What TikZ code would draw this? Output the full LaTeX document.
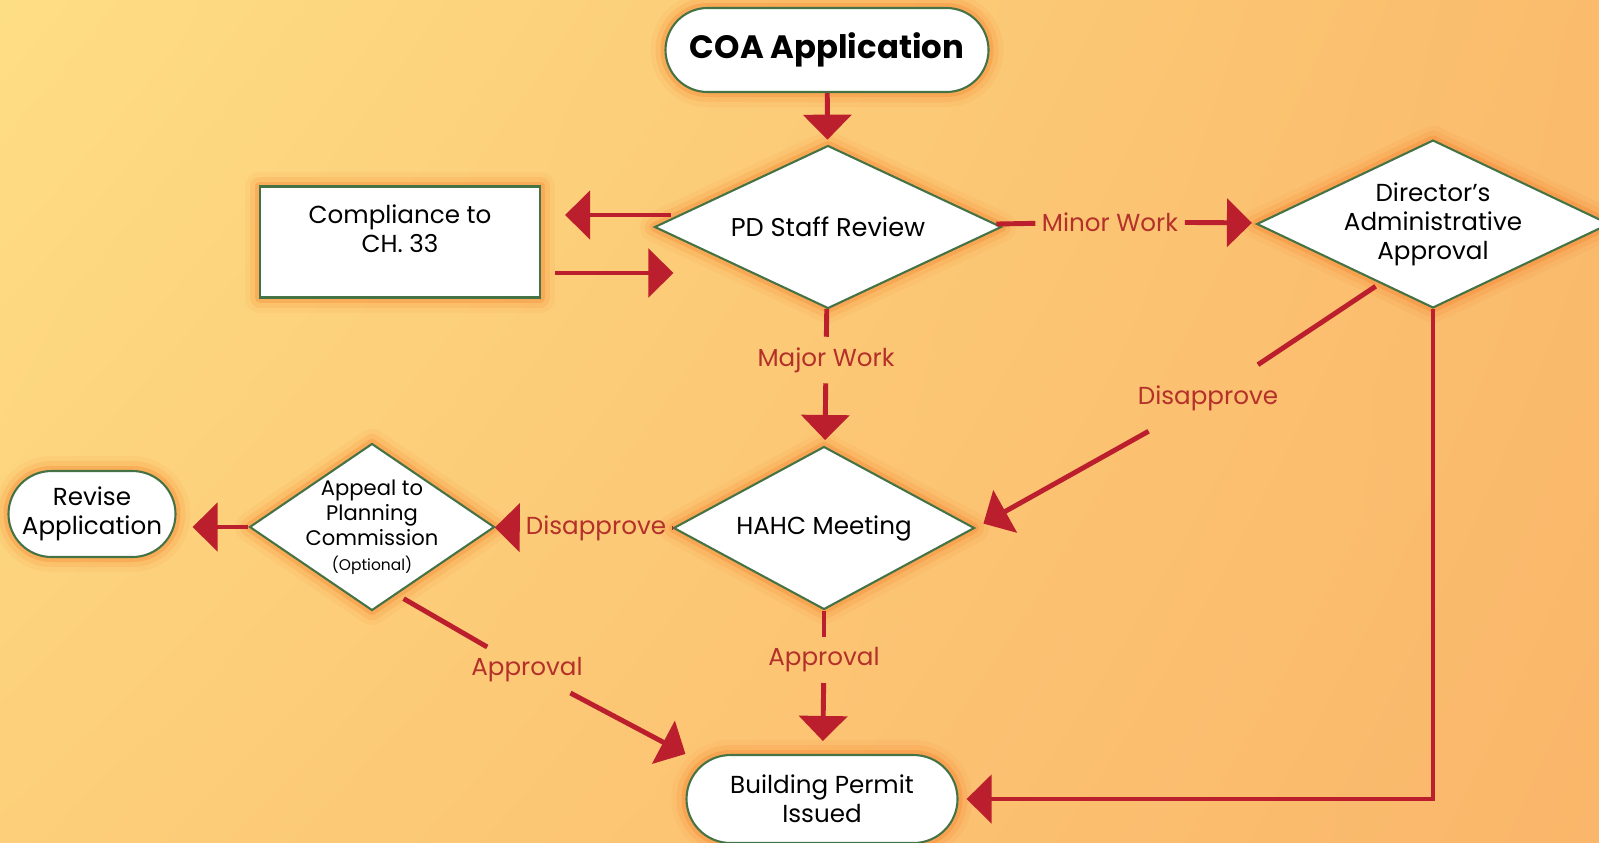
\documentclass[tikz,border=0pt]{standalone}
\usepackage{fontspec}
\setmainfont{Poppins}
\usepackage{tikz}
\usetikzlibrary{ arrows.meta, calc, positioning, shadings, shapes.geometric }
\definecolor{flowred}{RGB}{187,30,45}
\definecolor{tagred}{RGB}{180,48,42}
\definecolor{edgegreen}{RGB}{70,115,70}
\definecolor{glowcol}{RGB}{245,115,30}
\definecolor{bgA}{RGB}{254,222,133}
\definecolor{bgB}{RGB}{250,188,108}
\definecolor{bgC}{RGB}{253,207,122}
\definecolor{bgD}{RGB}{250,182,106}
\tikzset{
>={Triangle[width=4.8mm,length=2.5mm]}, % wide flat arrow heads
x=0.1mm, y=-0.1mm, % one unit is one pixel, y grows downwards
every node/.style={inner sep=1pt},
glowing/.style={ % soft orange halo round the boxes
  preaction={draw=glowcol, line width=3mm, draw opacity=0.07, line join=round},
  preaction={draw=glowcol, line width=2mm, draw opacity=0.12, line join=round},
  preaction={draw=glowcol, line width=1mm, draw opacity=0.24, line join=round}},
block/.style={draw=edgegreen, fill=white, line width=0.6pt, align=center, glowing,
  font=\fontsize{7}{8.25}\selectfont},
pill/.style={block, rounded corners=#1},
decision/.style={block, diamond, inner sep=0pt, aspect=#1},
decision/.default=2.1,
flow/.style={color=flowred, line width=1.4pt},
tag/.style={text=tagred, inner xsep=0.6mm, inner ysep=1mm, font=\fontsize{7}{8}\selectfont},
}

\begin{document}
\begin{tikzpicture}
  \shade[upper left=bgA, upper right=bgB, lower left=bgC, lower right=bgD] (0,0) rectangle (1599,842);
  \useasboundingbox (0,0) rectangle (1599,842);

  % boxes
  \node[pill=4.2mm, minimum width=3.23cm, minimum height=0.84cm, font=\fontsize{9.2}{11}\selectfont\bfseries] (coa) at (827,50) {COA Application};
  \node[decision, minimum width=3.47cm, minimum height=1.63cm, font=\fontsize{7.3}{8.25}\selectfont] (pd) at (828,227) {PD Staff Review};
  \node[block, minimum width=2.8cm, minimum height=1.11cm, text depth=2.6mm] (comp) at (400,242) {Compliance to\\CH. 33};
  \node[decision, minimum width=3.42cm, minimum height=1.63cm] (dir) at (1433,224) {Director’s\\Administrative\\Approval};
  \node[decision=1.85, minimum width=3.01cm, minimum height=1.63cm] (hahc) at (824,528) {HAHC Meeting};
  \node[decision=1.47, inner sep=-2mm, minimum width=2.45cm, minimum height=1.67cm, font=\fontsize{6}{7.1}\selectfont] (appeal) at (372,527) {Appeal to\\Planning\\Commission\\{\fontsize{4.4}{6}\selectfont(Optional)}};
  \node[pill=4.3mm, minimum width=1.67cm, minimum height=0.86cm] (revise) at (92,514) {Revise\\Application};
  \node[pill=4.4mm, minimum width=2.71cm, minimum height=0.88cm] (bp) at (822,799) {Building Permit\\Issued};

  % labels on the connectors
  \node[tag] (minor) at (1110,222) {Minor Work};
  \node[tag] (major) at (826,360) {Major Work};
  \node[tag] (dleft) at (596,528) {Disapprove};
  \node[tag, inner ysep=2mm] (dright) at (1208,398) {Disapprove};
  \node[tag] (aleft) at (527,670) {Approval};
  \node[tag] (amid) at (824,660) {Approval};

  % free ends
  \coordinate (cback) at ($(pd.west)+(18,-12)$);
  \coordinate (cend) at ($(comp.east)+(24,-27)$);
  \coordinate (cout) at ($(comp.east)+(14,31)$);
  \coordinate (cin) at ($(pd.west)+(20,46)$);
  \coordinate (dstart) at ($(dir.west)!0.7!(dir.south)$);
  \coordinate (astart) at ($(appeal.south)!0.2!(appeal.east)$);

  \path[flow]
  (coa) edge[->, shorten >=0.5mm] (pd)
  (cback) edge[->] (cend)
  (cout) edge[->] (cin)
  (pd) edge (minor)
  (minor) edge[->, shorten >=0.6mm] (dir)
  (pd) edge (major)
  (major) edge[->, shorten >=0.6mm] (hahc)
  (hahc) edge (dleft)
  (dleft) edge[->] (appeal)
  (appeal.west) edge[->, shorten >=1.6mm] (appeal.west -| revise.east)
  (hahc) edge (amid)
  (amid) edge[->, shorten >=1.3mm] (bp)
  (dstart) edge[shorten <=0.5mm] (dright)
  (dright) edge[->, shorten >=0.9mm] (hahc.east)
  (astart) edge[shorten <=0.8mm] (aleft)
  (aleft) edge[->] (bp.north west);
  \draw[flow, ->, shorten >=0.8mm] (dir.south) |- (bp.east);
\end{tikzpicture}
\end{document}
